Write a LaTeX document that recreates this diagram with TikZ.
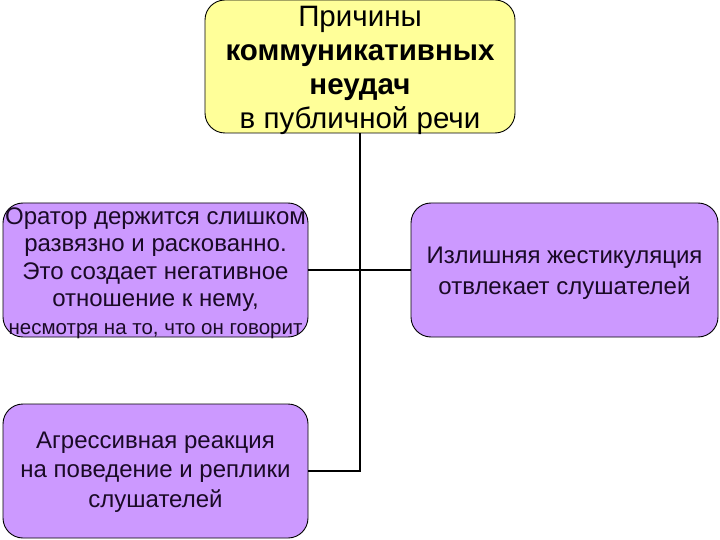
\documentclass[tikz,border=0pt]{standalone}
\usepackage{fontspec}
\setmainfont{Liberation Sans}
\definecolor{boxyellow}{HTML}{FFFF99}
\definecolor{boxpurple}{HTML}{CC99FF}
\definecolor{txtdark}{HTML}{1A0A26}
\begin{document}
\begin{tikzpicture}[x=1pt,y=-1pt,
  box/.style={draw=black, line width=0.9pt, rounded corners=20pt, inner sep=0pt},
  ybox/.style={box, fill=boxyellow, minimum width=310pt, minimum height=133pt},
  pbox/.style={box, fill=boxpurple, minimum width=305pt, minimum height=134pt},
  btext/.style={align=center, inner sep=0pt, text=txtdark},
  conn/.style={draw=black, line width=1.3pt}]
\useasboundingbox (0,0) rectangle (720,540);
\fill[white] (0,0) rectangle (720,540);
\node[ybox] (top) at (360,66.5) {};
\node[btext, text=black, font=\fontsize{29.5}{34}\selectfont] (toptext) at ([yshift=-4pt]top.center)
  {Причины\\ \textbf{коммуникативных}\\ \textbf{неудач}\\ в публичной речи};
\node[pbox] (l1) at (155.5,270) {};
\node[btext, font=\fontsize{24}{27.5}\selectfont] (l1text) at ([yshift=-3pt]l1.center)
  {Оратор держится слишком\\ развязно и раскованно.\\ Это создает негативное\\ отношение к нему,\\ {\fontsize{20.5}{27.5}\selectfont несмотря на то, что он говорит}};
\node[pbox, minimum width=307pt] (r1) at (564.5,270) {};
\node[btext, font=\fontsize{24}{31}\selectfont] (r1text) at ([yshift=-3.5pt]r1.center)
  {Излишняя жестикуляция\\ отвлекает слушателей};
\node[pbox] (l2) at (155.5,471) {};
\node[btext, font=\fontsize{24}{29.5}\selectfont] (l2text) at ([yshift=-1pt]l2.center)
  {Агрессивная реакция\\ на поведение и реплики\\ слушателей};
\coordinate (bend) at (top.south |- l2.east);
\draw[conn] (top.south) -- (bend) -- (l2.east);
\draw[conn] (l1.east) -- (r1.west);
\end{tikzpicture}
\end{document}
